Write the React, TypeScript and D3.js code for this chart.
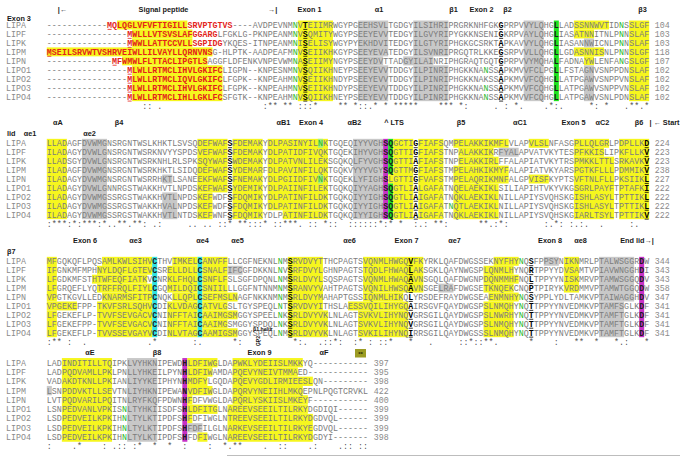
import React from "react";
import * as d3 from "d3";

const seqNames = ["LIPA", "LIPF", "LIPK", "LIPM", "LIPN", "LIPO1", "LIPO2", "LIPO3", "LIPO4"];

const block1 = [
  "-".repeat(12) + "MQLQGLVFVFTIGILLSRVPTGTVS----AVDPEVNMNVTEIIMRWGYPGEEHSVLTGDGYILSIHRIPRGRKNHFGKGPRPVVYLQHGLLADSSNNWVTIDNSSLGF",
  "-".repeat(16) + "MWLLLVTSVSLAFGGARGLFGKLG-PKNPEANMNVSQMITYWGYPSEEYEVVTEDGYILGVYRIPYGKKNSENIGKRPVAYLQHGLIASATNNITNLPNNSLAF",
  "-".repeat(16) + "MWWLLATTCCVLLSGPIDGYKQES-ITNPEANMNISELISYWGYPYEKHDVITEDGYILGTYRIPHGKGCSRKTAPKAVVYLQHGLIASANNWICNLPNNSLAF",
  "MSEILSRVWTVSHRVEIWLLILVAYLLQRNVNSG-HLPTK-AADPEAFMNVSEIIKHKGYPSEEYEVATEDGYILSVNRIPRGQTRLKKEGSRPVVLLQHGLLGDASNNISNLPNNSLGF",
  "-".repeat(13) + "MFWMWLFLTTACLIPGTLSAGGFLDFENKVNPEVWMNASEIIMYNGYPSEEYDVTTADGYILAINRIPHGRAQTGQTGPRPVVYMQHALFADNAYWLENFANGSLGF",
  "-".repeat(16) + "MLWLLRTMCLIHVLGKIFCLIGPN--KNPESNMNVSQIIKHNEYPSEEYEVVTDDGYILPINRIPHGKKNANSSAPKMVVFCLPGLLFSTAGNVSNPPDNSLAF",
  "-".repeat(16) + "MLWLLRTMCLIQVLGKIFCLFGPK--KNPEAHMNVSEIIKHNDYPSEEYEVVTDDGYILPINRIPHGKKNAKSSAPKMVVFCQHGLLATPGAWVSNPPVNSLAF",
  "-".repeat(16) + "MLWLLRTMCLIHVLGKIFCLFGPK--KNPEAHMNVSEIIKHNDYPSEEYEVVTDDGYILPINRIPHGKKNANSSAPKMVVFCQHGLLATPGAWVSNPPVNSLAF",
  "-".repeat(16) + "MLWLLRTMCLIHLLGKLFCSFGTK--KNPEAHMNVSQIIKHNEYPSEEYEVVTDDGYILPINRIPHGKKNANSSAPKMVVFCQHGLLATPGAWVSNLPDNSLAF",
];

const block2 = [
  "LLADAGFDVWMGNSRGNTWSLKHKTLSVSQDEFWAFSFDEMAKYDLPASINYILNKTGQEQIYYVGHSQGCTIGFIAFSQMPELAKKIKMFLVLAPVLSLNFASGPLLQLGRLPDPLLKD",
  "ILADAGYDVWLGNSRGNTWSRKNVYYSPDSVEFWAFSFDEMAKYDLPATIDFIVQKTGQEKIHYVGHSQGTTIGFIAFSTNPALAKKIKRFYALAPVATVKYTESPFKKISLIPKFLLKV",
  "LLADSGYDVWLGNSRGNTWSRKNHLRLSPKSQYWAFSWDEMAKYDLPATVNLILEKSGQKQLFYVGHSQGTTIAFIAFSTNPELAKKIRLFFALAPIATVKYTRSPMKKLTTLSRKAVKV",
  "ILADAGFDVWMGNSRGNTWSRKHKTLSIDQDEFWAFSYDEMARFDLPAVINFILQKTGQKVYYYVGYSQGTTMGFIAFSTMPELAHKIKMYFALAPIATVKYARSPGTKFLLLPDMMIKV",
  "ILADAGYDVWMGNSRGNTWSRRHKTLSANEEKFWAFSFNEMAKYDLPGIIDFIVNKTGQEKLYFIGHSLGTTIGFVAFSTMPELAQRIKMNFALGPVISFKYPTSVFTNLFLLPKSIIKL",
  "ILADAGYDVWLGNNRGSTWAKKHVTLNPDSKEFWAFSYDEMIKYDLPAIINFILEKTGQKQIYYAGHSQGTLIALGAFATNQELAEKIKLSILIAPIHTVKYVKGSGRLPAYFTPTAFKI",
  "ILADAGYDVWMGSSRGSTWAKKHVTLNPDSKEFWDFSFDQMIKYDLPATINFILDKTGQKQIYYIGHSQGTLIAIGAFATNQKLAEKIKLNILLAPIYSVQHSKGISHLASYLTPTTIKL",
  "ILADAGYDVWMGSSRGSTWAKKHVALNPDSKEFWDFSFDQMIKYDLPATINFILDKTGQKQIYYIGHSQGTLIAIGAFATNQTLAEKIKLNILLAPIYSVQHSKGISHLASYLTPTTIKL",
  "ILADAGYDVWMGSSRGSTWAKKHVTLNTDSKEFWNFSFDQMIKYDLPATINFILDKTGQKQIYYIGHSQGTLIAIGAFATNQKLAEKIKLNILLAPIYSVQHSKGIARLTSYLTPTTIKV",
];

const block3 = [
  "MFGQKQFLPQSAMLKWLSIHVCTHVIMKELCANVFFLLCGFNEKNLNMSRVDVYTTHCPAGTSVQNMLHWGQVFKYRKLQAFDWGSSEKNYFHYNQSFPPSYNIKNMRLPTALWSGGRDW",
  "IFGNKMFMPHNYLDQFLGTEVCSRELLDLLCSNALFIFCGFDKKNLNVSRFDVYLGHNPAGTSTQDLFHWAQLAKSGKLQAYNWGSPLQNMLHYNQRTPPYYDVSAMTVPIAVWNGGHDI",
  "LFGDKMFSTHTWFEQFIATKVCNRKLFHQLCSNFLFSLSGFDPQNLNMSRLDVYLSQSPAGTSVQNMLHWAQAVNSGQLQAFDWGNPDQNMMHFNQLTPPYYNISKMRVPTAMWSGGQDV",
  "LFGRQEFLYQTRFFRQLFIYLCGQMILDQICSNIILLLGGFNTNNMNMSRANVYVAHTPAGTSVQNILHWSQAVNSGELRAFDWGSETKNQEKCNQPTPIRYKVRDMMVPTAMWTGGQDW",
  "VPGTKGVLLEDKNARMSFITPCNQKLLQPLCSEFMSLNAGFNKKNMNMSRLDVYMAHAPTGSSIQNMLHIKQLYRSDEFRAYDWGSEAENMNHYNQSYPPLYDLTAMKVPTAIWAGGHDV",
  "VPGEKEFPP-TKVFSRLSQHVCDIKLVDAGCATVLGSLTGYSPEQLNTSRVDVYITHSLAESSVQILIHYGQAIRSGVFQAYDWGSPSLNMQHYNQTTPPYYNVEDMKVPTAMFSGLKDF",
  "LFGEKEFLP-TVVFSEVGACVCNINFFTAICAAIMGSMGGYSPEELNKSRLDVYVKLNLAGTSVKVLIHYNQVGRSGILQAYDWGSPSLNWRHYNQTTPPYYNVEDMKVPTAMFTGLKDF",
  "LFGEKEFPP-TVVFSEVGACVCNINFFTAICAAIMGSMGGYSPDQLNKSRLDVYVKLNLAGTSVKVLIHYNQVGRSGILQAYDWGSPSLNMQHYNQTTPPYYNVEDMKVPTAMFTGLKDF",
  "LFGEKEFLP-TVVSSEVGAYVCDINLVTAGCAAMIGSMGGYSPEQLNMSRLDVYVKLNLAGTSVKILIHYNQIRRSGILQAYDWGSSSLNMQHYNQTTPPYYNVEDMKVPTAMFTGLKDF",
];

const block4 = [
  "LADINDITILLTQIPKLVYHKNIPEWDHLDFIWGLDAPWKLYDEIISLMKKYQ",
  "LADPQDVAMLLPKLPNLLYHKEILPYNHLDFIWAMDAPQEVYNEIVTMMAED",
  "VADAKDTKNLLPKIANLIYYKEIPHYNHMDFYLGQDAPQEVYGDLIRMIEESLQN",
  "LSNPDDVKTLLSEVTNLIYHKNIPEWANVDFIWGLDAPQRVYNEIIHLMKQEPNLPQGTCRVKL",
  "LVTPQDVARILPQITNLRYFKQFPDWNHFDFVWGLDAPQRLYSKIISLMKEYF",
  "LSNPEDVANLVPKISNLTYHKIISDFSHLDFITGLNAREEVSEEILTILRKYDGDIQI",
  "LSDPEDVEILKPKIHNLTYLKTIPDFSHFDFIWGLNTREEVSEEILTILRKYDGDVQL",
  "LSDPEDVEILKPKIHNLTYLKTIPDFSHFDFILGLNARKEVSEEILTILRKYEGDVQL",
  "LSDPEDVEILKPKIHNLTYLKTIPDFSHFDFIWGLNAREEVSEEILTILRKYDGDYI",
];

const endNumbers1 = [104, 103, 103, 118, 107, 102, 102, 102, 102];
const endNumbers2 = [224, 223, 223, 238, 227, 222, 222, 222, 222];
const endNumbers3 = [344, 343, 343, 358, 347, 341, 341, 341, 341];
const endNumbers4 = [397, 395, 398, 422, 400, 399, 399, 399, 398];

// conservation lines: [startCol, symbols]
const cons1: [number, string][] = [[19, ":: ."], [43, ":** ** :::*"], [58, "** *::.* * *****    *** *:"], [89, ". : *.    .*:.     *: *   .**.*"]];
const cons2: [number, string][] = [[0, ":***:*:***:*..**.**: .:     .. .. ::* **:::* ::***. :: *::"], [59, " ::::::*:* *  :.: **:      **.:*:       :.*: :.:.  .     :.  .*"]];
const cons3: [number, string][] = [[0, ":** :  .            .*       :.      *:   :      *:.  .::*"], [58, ":  :* : ::*   *   .     ::*::**.      *    :   **  *   *.:   * :* *:: * :*"]];
const cons4: [number, string][] = [[0, ":    .*    : .:: :*  *  *  :    :  *.**    .  ::    .:    .:: :: :"]];

// highlights: [block, rowFrom, rowTo, colFrom, colTo, colour key]
const highlights: [number, number, number, number, number, string][] = [
  [0, 0, 0, 14, 27, "Y"], [0, 1, 1, 17, 28, "Y"], [0, 2, 2, 17, 28, "Y"], [0, 3, 3, 0, 32, "Y"], [0, 4, 4, 15, 31, "Y"], [0, 5, 8, 17, 34, "Y"],
  [0, 0, 8, 50, 56, "Y"],
  [0, 0, 3, 62, 67, "G"], [0, 4, 4, 62, 66, "G"], [0, 5, 8, 62, 67, "G"],
  [0, 0, 3, 73, 79, "G"], [0, 4, 4, 71, 76, "G"], [0, 5, 8, 73, 79, "G"],
  [0, 0, 8, 95, 98, "G"],
  [0, 0, 8, 101, 101, "GR"],
  [0, 0, 0, 105, 111, "Y"], [0, 1, 1, 105, 108, "Y"], [0, 3, 3, 105, 110, "Y"], [0, 4, 4, 107, 108, "Y"],
  [0, 2, 2, 107, 108, "G"], [0, 5, 8, 107, 108, "G"],
  [0, 0, 8, 116, 119, "Y"],

  [1, 0, 8, 0, 3, "Y"],
  [1, 0, 8, 7, 11, "G"],
  [1, 4, 4, 23, 24, "G"], [1, 6, 8, 23, 25, "G"],
  [1, 0, 5, 30, 35, "Y"], [1, 6, 8, 30, 32, "Y"],
  [1, 0, 8, 37, 42, "Y"],
  [1, 0, 7, 44, 55, "Y"], [1, 8, 8, 47, 55, "Y"],
  [1, 0, 0, 54, 54, "LG"], [1, 4, 4, 54, 54, "LG"],
  [1, 0, 8, 61, 66, "G"],
  [1, 0, 8, 67, 67, "M"],
  [1, 0, 3, 68, 68, "GR"], [1, 4, 4, 68, 68, "Y"], [1, 5, 8, 68, 68, "GR"],
  [1, 0, 8, 69, 72, "Y"],
  [1, 0, 8, 74, 78, "Y"],
  [1, 0, 0, 81, 91, "Y"], [1, 1, 1, 82, 88, "Y"], [1, 2, 2, 82, 89, "Y"], [1, 3, 4, 81, 91, "Y"], [1, 5, 8, 81, 89, "Y"],
  [1, 1, 1, 90, 93, "G"],
  [1, 0, 0, 96, 99, "Y"], [1, 4, 4, 96, 99, "Y"],
  [1, 0, 0, 105, 111, "Y"], [1, 1, 1, 105, 110, "Y"], [1, 2, 8, 105, 112, "Y"],
  [1, 0, 8, 114, 119, "Y"],

  [2, 0, 4, 0, 1, "Y"], [2, 5, 5, 0, 5, "Y"], [2, 6, 8, 0, 1, "Y"],
  [2, 0, 0, 11, 20, "Y"], [2, 1, 1, 10, 20, "Y"], [2, 2, 2, 9, 19, "Y"], [2, 3, 3, 10, 20, "Y"], [2, 4, 4, 11, 20, "Y"], [2, 5, 8, 10, 20, "Y"],
  [2, 0, 8, 21, 21, "C"], [2, 0, 8, 30, 30, "C"],
  [2, 0, 0, 25, 29, "Y"], [2, 1, 3, 24, 29, "Y"], [2, 4, 4, 25, 29, "Y"], [2, 5, 8, 24, 29, "Y"],
  [2, 0, 3, 31, 35, "Y"], [2, 1, 1, 36, 38, "G"], [2, 4, 4, 31, 37, "Y"], [2, 5, 5, 31, 35, "Y"], [2, 6, 6, 31, 37, "Y"], [2, 7, 7, 31, 35, "Y"], [2, 8, 8, 31, 37, "Y"],
  [2, 0, 5, 48, 54, "Y"], [2, 6, 8, 48, 55, "Y"],
  [2, 0, 3, 63, 74, "Y"], [2, 4, 4, 63, 70, "Y"], [2, 5, 5, 60, 71, "Y"], [2, 6, 8, 62, 71, "Y"],
  [2, 3, 3, 78, 80, "G"],
  [2, 0, 0, 89, 93, "Y"], [2, 1, 1, 87, 92, "Y"], [2, 2, 2, 87, 93, "Y"], [2, 3, 3, 87, 92, "Y"], [2, 4, 4, 88, 93, "Y"], [2, 5, 8, 87, 92, "Y"],
  [2, 0, 0, 99, 101, "G"],
  [2, 0, 3, 103, 105, "Y"],
  [2, 0, 4, 110, 116, "G"], [2, 5, 8, 110, 114, "G"],
  [2, 0, 8, 118, 118, "M"],

  [3, 3, 3, 0, 0, "G"],
  [3, 0, 8, 3, 12, "Y"],
  [3, 0, 8, 16, 21, "G"],
  [3, 0, 8, 27, 27, "M"],
  [3, 0, 0, 28, 33, "Y"], [3, 1, 1, 28, 32, "Y"], [3, 2, 2, 28, 31, "Y"], [3, 3, 3, 28, 32, "Y"], [3, 4, 4, 28, 28, "Y"],
  [3, 5, 5, 28, 33, "Y"], [3, 6, 6, 28, 28, "Y"], [3, 7, 7, 28, 30, "G"], [3, 8, 8, 30, 31, "Y"],
  [3, 0, 0, 37, 50, "Y"], [3, 1, 1, 37, 49, "Y"], [3, 2, 2, 37, 52, "Y"], [3, 3, 3, 37, 50, "Y"], [3, 4, 4, 37, 51, "Y"],
  [3, 5, 5, 36, 51, "Y"], [3, 6, 8, 36, 52, "Y"],
];

const boldColumns = [[51, 90], [36, 73, 119], [48, 72, 96], []];

// signal peptide spans in block 1: [row, from, to]
const redSpans: [number, number, number][] = [
  [0, 12, 36], [1, 16, 33], [2, 16, 34], [3, 0, 32], [4, 13, 31], [5, 16, 34], [6, 16, 34], [7, 16, 34], [8, 16, 34],
];

// green letters: [block, row, col]
const greenLetters: [number, number, number][] = [
  [0, 0, 49], [0, 1, 49], [0, 2, 49], [0, 3, 49], [0, 4, 49], [0, 5, 49], [0, 6, 49], [0, 7, 49], [0, 8, 49],
  [0, 5, 87], [0, 7, 87], [0, 8, 87],
  [0, 0, 114], [0, 1, 114], [0, 2, 114], [0, 3, 114], [0, 4, 114],
  [1, 0, 54], [1, 4, 54], [1, 7, 80],
  [2, 0, 46], [2, 1, 46], [2, 2, 46], [2, 3, 46], [2, 4, 46], [2, 5, 46], [2, 6, 46], [2, 7, 46], [2, 8, 46],
  [2, 0, 94], [2, 4, 94], [2, 5, 94], [2, 6, 94], [2, 7, 94], [2, 8, 94],
  [3, 5, 15], [3, 6, 15], [3, 7, 15], [3, 8, 15],
];

// header labels: [text, x, y, anchor]
const headerLabels: [string, number, number, string][] = [
  ["|←", 62.5, 9.3, "middle"], ["Signal peptide", 163.5, 9.3, "middle"], ["→|", 272.5, 9.3, "middle"],
  ["Exon 1", 309.5, 9.3, "middle"], ["α1", 379, 9.3, "middle"], ["β1", 453.5, 9.3, "middle"],
  ["Exon 2", 481.5, 9.3, "middle"], ["β2", 507.5, 9.3, "middle"], ["β3", 642.5, 9.3, "middle"],
  ["Exon 3", 7, 18.3, "start"],
  ["αA", 58, 122.3, "middle"], ["β4", 119, 122.3, "middle"], ["αB1", 283.5, 122.3, "middle"],
  ["Exon 4", 311, 122.3, "middle"], ["αB2", 354.5, 122.3, "middle"], ["^ LTS", 394, 122.3, "middle"],
  ["β5", 461, 122.3, "middle"], ["αC1", 520, 122.3, "middle"], ["Exon 5", 573.5, 122.3, "middle"],
  ["αC2", 602.5, 122.3, "middle"], ["β6", 639, 122.3, "middle"], ["| ← Start", 679.5, 122.3, "end"],
  ["lid", 7, 133.5, "start"], ["αe1", 30, 133.5, "middle"], ["αe2", 89.5, 133.5, "middle"],
  ["Exon 6", 85, 240, "middle"], ["αe3", 135.5, 240, "middle"], ["αe4", 202.5, 240, "middle"],
  ["αe5", 237.5, 240, "middle"], ["αe6", 349.5, 240, "middle"], ["Exon 7", 406.5, 240, "middle"],
  ["αe7", 454.5, 240, "middle"], ["Exon 8", 550, 240, "middle"], ["αe8", 580.5, 240, "middle"],
  ["End lid→|", 637, 240, "middle"],
  ["β7", 7, 251, "start"],
  ["αE", 90, 352.7, "middle"], ["β8", 157, 352.7, "middle"], ["Exon 9", 259.5, 352.7, "middle"], ["αF", 324, 352.7, "middle"],
];

const blocks = [block1, block2, block3, block4];
const endNumbers = [endNumbers1, endNumbers2, endNumbers3, endNumbers4];
const consLines = [cons1, cons2, cons3, cons4];
const blockCols = [120, 120, 120, 64];
const rowTop = [25.0, 143.3, 261.3, 362.7];
const rowStep = [8.96, 8.93, 8.93, 9.3];

const HL: Record<string, string> = { Y: "#f6f61e", G: "#c8c8c8", GR: "#1ee31e", M: "#c631c6", C: "#2fe2e2", LG: "#a4f27e" };

const MONO = "'Liberation Mono', 'DejaVu Sans Mono', monospace";
const SANS = "'Liberation Sans', Arial, sans-serif";

function buildCons(segs: [number, string][], n: number): string {
  const arr = new Array(n).fill(" ");
  segs.forEach(([s, str]) => {
    for (let i = 0; i < str.length && s + i < n; i++) arr[s + i] = str[i];
  });
  return arr.join("");
}

export default function App() {
  const X0 = 46.8, CW = 5.02;
  const xs = d3.scaleLinear().domain([0, 120]).range([X0, X0 + 120 * CW]);
  const ys = rowTop.map((t, i) => d3.scaleLinear().domain([0, 8]).range([t, t + 8 * rowStep[i]]));

  const hlMap = new Map<string, string>();
  highlights.forEach(([b, r0, r1, c0, c1, k]) => {
    for (let r = r0; r <= r1; r++) for (let c = c0; c <= c1; c++) hlMap.set(`${b}-${r}-${c}`, k);
  });
  const greenSet = new Set(greenLetters.map(([b, r, c]) => `${b}-${r}-${c}`));
  const redMap = new Map<string, boolean>();
  redSpans.forEach(([r, c0, c1]) => {
    for (let c = c0; c <= c1; c++) redMap.set(`0-${r}-${c}`, c === c0);
  });

  const rects: React.ReactNode[] = [];
  highlights.forEach(([b, r0, r1, c0, c1, k], i) => {
    const st = rowStep[b];
    const y0 = ys[b](r0) - st / 2;
    const y1 = ys[b](r1) + st / 2;
    rects.push(
      <rect key={`h${i}`} x={xs(c0)} y={y0} width={xs(c1 + 1) - xs(c0)} height={y1 - y0} fill={HL[k]} />
    );
  });

  const letters: React.ReactNode[] = [];
  const lines: React.ReactNode[] = [];
  blocks.forEach((blk, b) => {
    const n = blockCols[b];
    blk.forEach((raw, r) => {
      const s = raw.padEnd(n, "-").slice(0, n);
      const yc = ys[b](r);
      const base = yc + 2.9;
      for (let c = 0; c < n; c++) {
        const ch = s[c];
        const key = `${b}-${r}-${c}`;
        let fill = "#7c7c7c";
        let weight: any = "normal";
        let underline: string | null = null;
        const hk = hlMap.get(key);
        if (hk === "M" || hk === "GR" || hk === "C") { fill = "#1c1c1c"; weight = "bold"; }
        if (greenSet.has(key)) fill = "#25b825";
        if (redMap.has(key)) {
          fill = "#e3231b"; weight = "bold";
          if (redMap.get(key)) underline = "#e3231b";
        }
        if (boldColumns[b].includes(c) && ch !== "-") { fill = "#000"; weight = "bold"; underline = "#000"; }
        letters.push(
          <text key={`t${key}`} x={xs(c + 0.5)} y={base} textAnchor="middle" fill={fill} fontWeight={weight}>{ch}</text>
        );
        if (underline) {
          lines.push(
            <line key={`u${key}`} x1={xs(c) + 0.5} x2={xs(c + 1) - 0.5} y1={base + 1.5} y2={base + 1.5} stroke={underline} strokeWidth={0.8} />
          );
        }
      }
      letters.push(
        <text key={`n${b}-${r}`} x={6} y={base} fill="#8a8a8a">{seqNames[r]}</text>
      );
      letters.push(
        <text key={`e${b}-${r}`} x={xs(n + 1) + 0.6} y={base} fill="#8a8a8a">{endNumbers[b][r]}</text>
      );
    });
    const cons = buildCons(consLines[b], n);
    const cy = ys[b](8) + 12.3;
    for (let c = 0; c < n; c++) {
      if (cons[c] === " ") continue;
      letters.push(
        <text key={`c${b}-${c}`} x={xs(c + 0.5)} y={cy} textAnchor="middle" fill="#555">{cons[c]}</text>
      );
    }
  });

  return (
    <svg width={680} height={456} style={{ position: "absolute", left: 0, top: 0, background: "#fff" }}>
      <rect x={0} y={0} width={680} height={456} fill="#fff" />
      {rects}
      <g fontFamily={MONO} fontSize={8.3}>
        {letters}
      </g>
      {lines}
      <g fontFamily={SANS} fontWeight="bold" fontSize={7.3} fill="#1a1a1a">
        {headerLabels.map(([t, x, y, a], i) => (
          <text key={`hd${i}`} x={x} y={y + 2.7} textAnchor={a as any}>{t}</text>
        ))}
      </g>
      <rect x={355} y={349} width={11} height={8.5} fill="#9c9c24" />
      <text x={360.5} y={355.8} textAnchor="middle" fontFamily={SANS} fontWeight="bold" fontSize={6} fill="#2a2a00">**</text>
      <text x={253} y={331} fontFamily={SANS} fontWeight="bold" fontSize={5.2} fill="#111">β1 helix</text>
      <text x={0} y={0} transform="translate(260,341) rotate(-90)" textAnchor="middle" fontFamily={SANS} fontWeight="bold" fontSize={5.2} fill="#111">GP2</text>
      <line x1={227} x2={680} y1={455.5} y2={455.5} stroke="#bdbdbd" strokeWidth={1} />
    </svg>
  );
}
